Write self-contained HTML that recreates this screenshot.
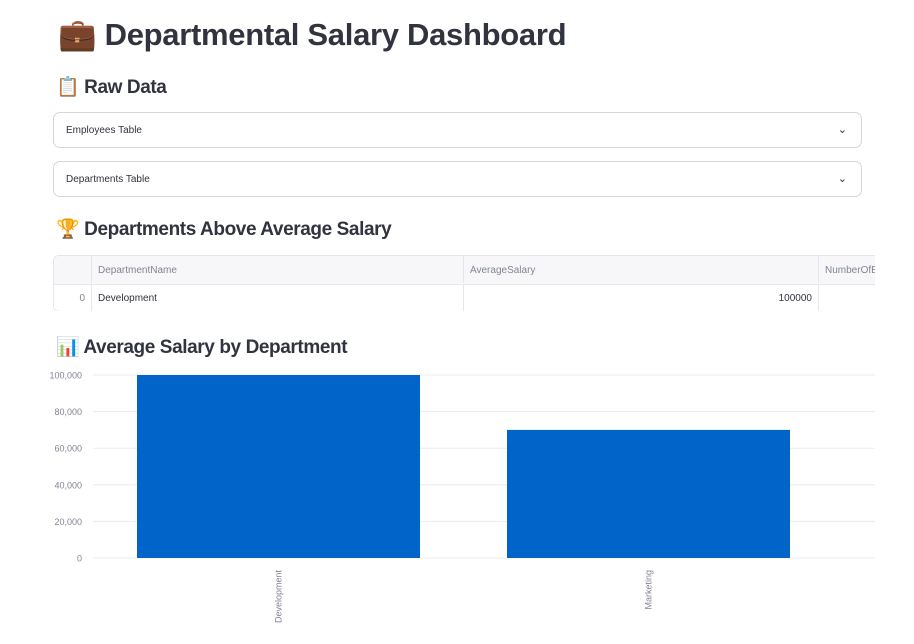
<!DOCTYPE html>
<html><head><meta charset="utf-8"><style>
body{margin:0;width:914px;height:644px;background:#fff;font-family:"Liberation Sans","DejaVu Sans",sans-serif;color:#31333f;position:relative;overflow:hidden}
.abs{position:absolute}
h1{position:absolute;left:58px;top:14px;margin:0;font-size:31px;font-weight:bold;line-height:42px;white-space:nowrap;letter-spacing:-0.3px}
h2{position:absolute;left:56px;margin:0;font-size:19px;font-weight:bold;line-height:28px;white-space:nowrap;letter-spacing:-0.4px}
.exp{position:absolute;left:53px;width:809px;height:36px;border:1px solid #d6d6d9;border-radius:7px;font-size:10px;line-height:35px;box-sizing:border-box;padding-left:12px}
.exp span.chev{position:absolute;right:14px;top:0;font-size:11px}
.clip{position:absolute;left:53px;top:255px;width:822px;height:56px;overflow:hidden}
.tbl{position:absolute;left:0;top:0;width:840px;height:55px;border:1px solid #e6e6ea;border-radius:6px;font-size:10px;overflow:hidden}
.cell{position:absolute;box-sizing:border-box;border-right:1px solid #e6e6ea;padding:0 6px;height:27px;line-height:29px}
</style></head><body>
<h1>💼 Departmental Salary Dashboard</h1>
<h2 style="top:74px">📋 Raw Data</h2>
<div class="exp" style="top:112px">Employees Table<span class="chev">⌄</span></div>
<div class="exp" style="top:161px">Departments Table<span class="chev">⌄</span></div>
<h2 style="top:216px">🏆 Departments Above Average Salary</h2>
<div class="clip">
<div class="tbl">
 <div class="abs" style="left:0;top:0;width:840px;height:28px;background:#f7f7f9;border-bottom:1px solid #e6e6ea"></div>
 <div class="cell" style="left:0;top:0;width:38px"></div>
 <div class="cell" style="left:38px;top:0;width:372px;color:#808495">DepartmentName</div>
 <div class="cell" style="left:410px;top:0;width:355px;color:#808495">AverageSalary</div>
 <div class="cell" style="left:765px;top:0;width:80px;color:#808495;border:none">NumberOfEmployees</div>
 <div class="cell" style="left:0;top:28px;width:38px;text-align:right;color:#808495">0</div>
 <div class="cell" style="left:38px;top:28px;width:372px">Development</div>
 <div class="cell" style="left:410px;top:28px;width:355px;text-align:right">100000</div>
</div>
</div>
<h2 style="top:334px">📊 Average Salary by Department</h2>
<svg id="chart" class="abs" style="left:0;top:360px" width="914" height="284"></svg>
<script>
const categories=["Development","Marketing"];
const salaries=[100000,70000];
const ticks=[0,20000,40000,60000,80000,100000];
const svg=document.getElementById('chart');
const NS='http://www.w3.org/2000/svg';
const y0=198,y1=15,yMax=100000;
const y=v=>y0-(v/yMax)*(y0-y1);
const xL=93.5,step=370;
const xc=i=>xL+step*(i+0.5);
const bw=283;
function mk(t,a){const e=document.createElementNS(NS,t);for(const k in a)e.setAttribute(k,a[k]);svg.appendChild(e);return e;}
ticks.forEach(t=>{
 const g=mk('line',{x1:93,x2:875,y1:y(t),y2:y(t),stroke:'#ececf0','stroke-width':1});
 
 
 const l=mk('text',{x:82,y:y(t)+3.5,'text-anchor':'end','font-size':9,fill:'#808495'});
 l.textContent=t.toLocaleString('en-US');
 
 
});
categories.forEach((c,i)=>{
 const r=mk('rect',{x:xc(i)-bw/2,y:y(salaries[i]),width:bw,height:y0-y(salaries[i]),fill:'#0064c8'});
 
 
 const t=mk('text',{x:0,y:0,'text-anchor':'end','font-size':9,fill:'#808495',transform:`translate(${xc(i)+3},${y0+12}) rotate(-90)`});
 t.textContent=c;
 
 
});
</script>
</body></html>
